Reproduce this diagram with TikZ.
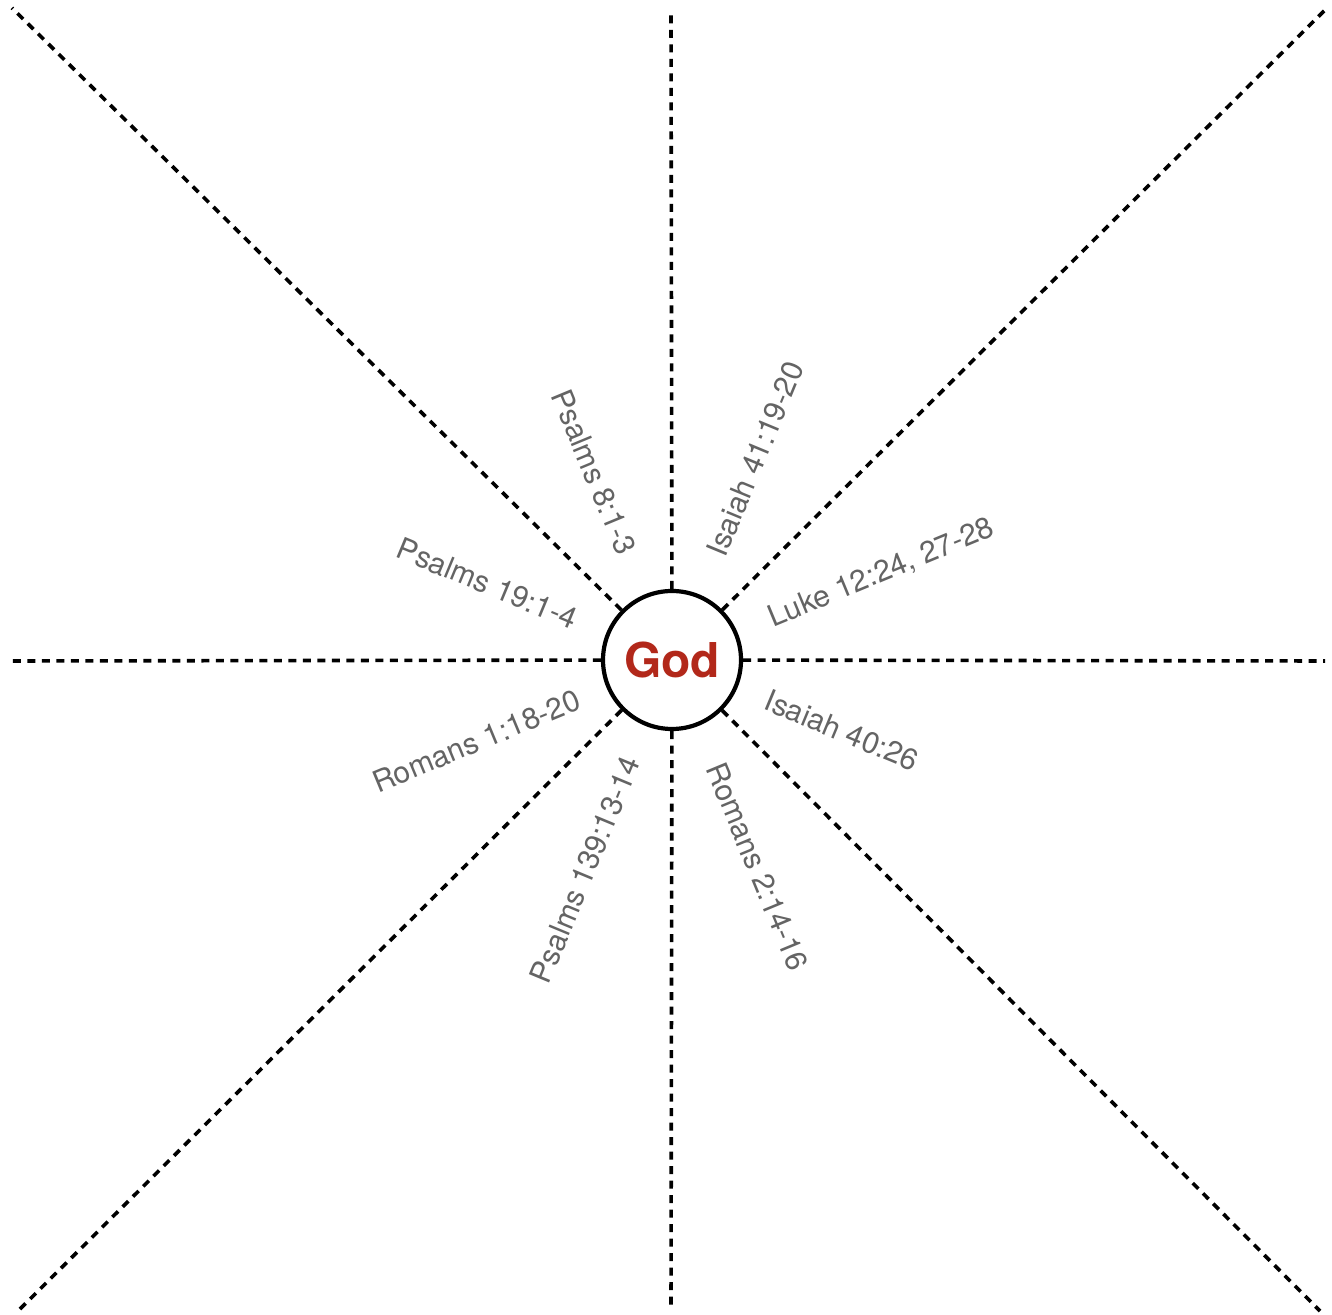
\documentclass[tikz,border=0pt]{standalone}
\usepackage{fontspec}
\setmainfont{TeX Gyre Heros}
\usetikzlibrary{calc}
\definecolor{godred}{RGB}{178,40,26}
\definecolor{labelgray}{RGB}{100,100,100}
\begin{document}
\begin{tikzpicture}[x=1pt,y=1pt,
  ray/.style={line width=3.6pt, dash pattern=on 8pt off 6.5pt},
  ref/.style={text=labelgray, font=\fontsize{30}{31}\selectfont, inner sep=0pt},
  godcircle/.style={circle, draw, line width=4.2pt, minimum size=138pt, inner sep=0pt, fill=white}]
\useasboundingbox (0,0) rectangle (1332,1314);
\node[godcircle] (c) at (672,654) {};
\node[text=godred, font=\fontsize{48}{49}\selectfont\bfseries] (god) at (672,654) {God};
\coordinate (eN) at (671,1302);
\coordinate (eS) at (671,4);
\coordinate (eW) at (10,653);
\coordinate (eE) at (1325,653);
\coordinate (eNW) at (12,1306);
\coordinate (eNE) at (1327,1306);
\coordinate (eSW) at (17,2);
\coordinate (eSE) at (1320,3);
\foreach \e in {eN,eS,eW,eE,eNW,eNE,eSW,eSE}{
  \draw[ray] (c) -- (\e);
}
\node[ref, anchor=east, rotate=-67.5] (p8) at ($(c.center)+(112.5:116)$) {Psalms 8:1-3};
\node[ref, anchor=west, rotate=67.5] (i41) at ($(c.center)+(67.5:114)$) {Isaiah 41:19-20};
\node[ref, anchor=west, rotate=22.5] (lk) at ($(c.center)+(22.5:106)$) {Luke 12:24, 27-28};
\node[ref, anchor=west, rotate=-22.5] (i40) at ($(c.center)+(-22.5:102)$) {Isaiah 40:26};
\node[ref, anchor=west, rotate=-67.5] (r2) at ($(c.center)+(-67.5:113)$) {Romans 2:14-16};
\node[ref, anchor=east, rotate=67.5] (p139) at ($(c.center)+(-112.5:106)$) {Psalms 139:13-14};
\node[ref, anchor=east, rotate=22.5] (r1) at ($(c.center)+(-157.5:101)$) {Romans 1:18-20};
\node[ref, anchor=east, rotate=-22.5] (p19) at ($(c.center)+(157.5:104)$) {Psalms 19:1-4};
\end{tikzpicture}
\end{document}
